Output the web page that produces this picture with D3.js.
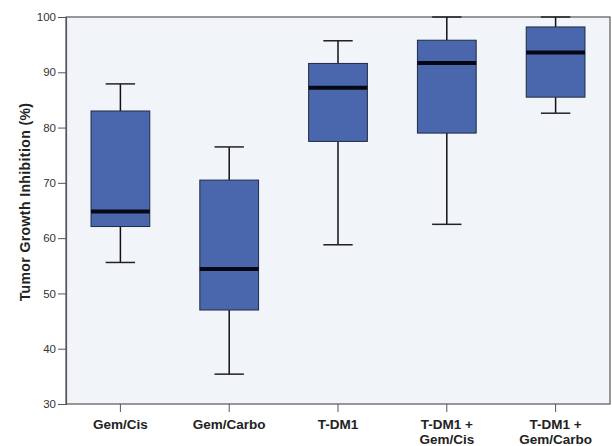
<!DOCTYPE html>
<html>
<head>
<meta charset="utf-8">
<script src="https://cdn.jsdelivr.net/npm/d3@7"></script>
<style>
  body { margin: 0; background: #fff; }
  svg { display: block; font-family: Arial, "Liberation Sans", sans-serif; }
</style>
</head>
<body>
<svg id="chart" width="612" height="446"></svg>
<script>
// groups and five-number summaries
const groups = ["Gem/Cis", "Gem/Carbo", "T-DM1", "T-DM1 +\nGem/Cis", "T-DM1 +\nGem/Carbo"]
const whiskerLow = [55.6, 35.4, 58.8, 62.5, 82.6]
const q1 = [62.1, 47.0, 77.5, 79.0, 85.5]
const median = [64.8, 54.4, 87.2, 91.7, 93.6]
const q3 = [83.0, 70.5, 91.6, 95.8, 98.2]
const whiskerHigh = [87.9, 76.5, 95.7, 100, 100]
const yTicks = [30, 40, 50, 60, 70, 80, 90, 100]

const svg = d3.select("#chart")
const plotL = 66, plotR = 610, plotT = 17, plotB = 404

const x = d3.scaleBand().domain(groups).range([plotL, plotR]).padding(0)
const y = d3.scaleLinear().domain([30, 100]).range([plotB, plotT])

// plot background + frame
svg.append("rect")
    .attr("x", plotL).attr("y", plotT)
    .attr("width", plotR - plotL).attr("height", plotB - plotT)
    .attr("fill", "#f1f5fa")
    .attr("stroke", "#555").attr("stroke-width", 1.2)

const boxW = x.bandwidth() * 0.54
const capW = boxW * 0.5

const rows = groups.map((g, i) => ({
    g, lo: whiskerLow[i], q1: q1[i], med: median[i], q3: q3[i], hi: whiskerHigh[i]
}))

const box = svg.append("g").selectAll("g")
    .data(rows)
    .join("g")
    .attr("transform", d => `translate(${x(d.g) + x.bandwidth() / 2},0)`)

// whiskers
box.append("line")
    .attr("y1", d => y(d.hi)).attr("y2", d => y(d.q3))
    .attr("stroke", "#111").attr("stroke-width", 1.5)
box.append("line")
    .attr("y1", d => y(d.q1)).attr("y2", d => y(d.lo))
    .attr("stroke", "#111").attr("stroke-width", 1.5)
box.selectAll("line.cap")
    .data(d => [d.lo, d.hi])
    .join("line")
    .attr("class", "cap")
    .attr("x1", -capW / 2).attr("x2", capW / 2)
    .attr("y1", v => y(v)).attr("y2", v => y(v))
    .attr("stroke", "#222").attr("stroke-width", 1.5)

box.append("rect")
    .attr("x", -boxW / 2).attr("width", boxW)
    .attr("y", d => y(d.q3))
    .attr("height", d => y(d.q1) - y(d.q3))
    .attr("fill", "#4a67ae")
    .attr("stroke", "#1f2a40").attr("stroke-width", 1)

box.append("line")
    .attr("x1", -boxW / 2).attr("x2", boxW / 2)
    .attr("y1", d => y(d.med)).attr("y2", d => y(d.med))
    .attr("stroke", "#050814").attr("stroke-width", 4)

// y axis
const yAxis = svg.append("g")
    .attr("transform", `translate(${plotL},0)`)
    .call(d3.axisLeft(y).tickValues(yTicks).tickSize(8).tickPadding(2))
yAxis.select(".domain").attr("stroke", "#555").attr("stroke-width", 1.2)
yAxis.selectAll(".tick line").attr("stroke", "#555")
yAxis.selectAll("text").attr("font-size", 11.5).attr("fill", "#333")

// x axis
const xAxis = svg.append("g")
    .attr("transform", `translate(0,${plotB})`)
    .call(d3.axisBottom(x).tickSize(8).tickFormat(""))
xAxis.select(".domain").remove()
xAxis.selectAll(".tick line").attr("stroke", "#555")

xAxis.selectAll(".tick").append("text")
    .attr("text-anchor", "middle")
    .attr("font-size", 13.5)
    .attr("font-weight", "bold")
    .attr("fill", "#222")
    .selectAll("tspan")
    .data(d => d.split("\n"))
    .join("tspan")
    .attr("x", 0)
    .attr("y", (d, i) => 25 + i * 15)
    .text(d => d)

svg.append("text")
    .attr("transform", "translate(30,202) rotate(-90)")
    .attr("text-anchor", "middle")
    .attr("font-size", 14)
    .attr("font-weight", "bold")
    .attr("letter-spacing", 0.4)
    .attr("fill", "#222")
    .text("Tumor Growth Inhibition (%)")
</script>
</body>
</html>
